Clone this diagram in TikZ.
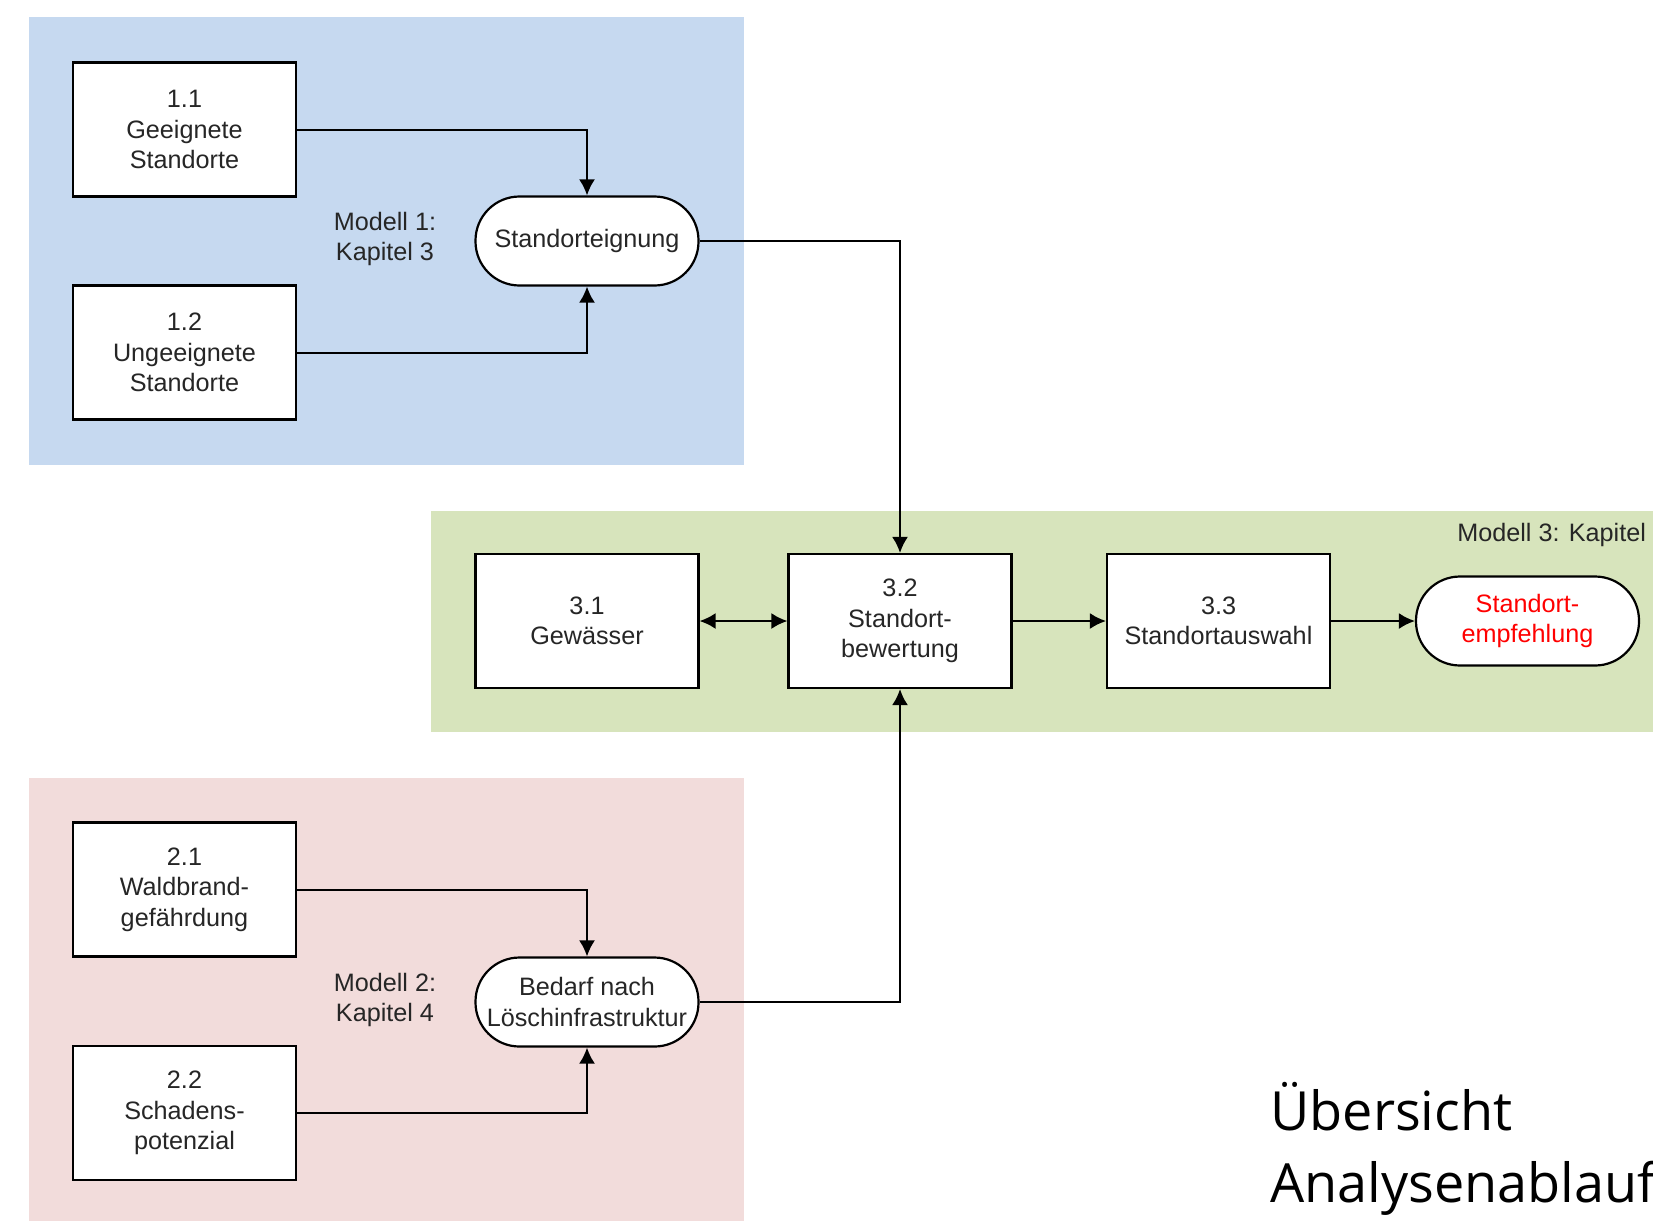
\documentclass[tikz,border=0pt]{standalone}
\usepackage{fontspec}
\setmainfont{Liberation Sans}
\newfontfamily\titlefont{Open Sans}
\usetikzlibrary{arrows.meta}
\definecolor{bluebg}{HTML}{C6D9F0}
\definecolor{greenbg}{HTML}{D7E4BC}
\definecolor{pinkbg}{HTML}{F2DCDB}
\definecolor{redtext}{HTML}{FF0000}
\begin{document}
\begin{tikzpicture}[x=0.5pt,y=-0.5pt,
  txt/.style={font=\fontsize{12.6}{15.3}\selectfont, align=center, text=black!85},
  box/.style={txt, draw, fill=white, line width=1.1pt, minimum width=111.5pt, minimum height=67pt, inner sep=0pt},
  term/.style={box, rounded corners=22pt, minimum height=44.5pt},
  flow/.style={line width=1pt, -{Latex[length=8pt,width=8pt]}}]
\useasboundingbox (0,0) rectangle (1653,1221);
% panels
\fill[bluebg] (28.5,17) rectangle (744,465);
\fill[greenbg] (431,511) rectangle (1653,732);
\fill[pinkbg] (28.5,778) rectangle (744,1221);
% model 1
\node[box] (b11) at (184.5,129.5) {1.1\\Geeignete\\Standorte};
\node[box] (b12) at (184.5,352.5) {1.2\\Ungeeignete\\Standorte};
\node[term] (eig) at (587,241) {Standorteignung};
\node[txt] (m1) at (385,239) {Modell 1:\\Kapitel 3};
% model 3
\node[box] (b31) at (587,621) {3.1\\Gewässer};
\node[box] (b32) at (900,621) {3.2\\Standort-\\bewertung};
\node[box] (b33) at (1218.5,621) {3.3\\Standortauswahl};
\node[term, text=redtext] (emp) at (1527.5,621) {Standort-\\empfehlung};
\node[txt, anchor=east] (m3) at (1653,535) {Modell 3: Kapitel};
% model 2
\node[box] (b21) at (184.5,889.5) {2.1\\Waldbrand-\\gefährdung};
\node[box] (b22) at (184.5,1113) {2.2\\Schadens-\\potenzial};
\node[term] (bed) at (587,1002) {Bedarf nach\\Löschinfrastruktur};
\node[txt] (m2) at (385,1000) {Modell 2:\\Kapitel 4};
% title
\node[font=\titlefont\fontsize{27}{36}\selectfont, anchor=base west, inner sep=0pt] (t1) at (1270,1130) {Übersicht};
\node[font=\titlefont\fontsize{27}{36}\selectfont, anchor=base west, inner sep=0pt] (t2) at (1270,1202) {Analysenablauf};
% connectors
\draw[flow] (b11.east) -| (eig.north);
\draw[flow] (b12.east) -| (eig.south);
\draw[flow] (eig.east) -| (b32.north);
\draw[flow] (b21.east) -| (bed.north);
\draw[flow] (b22.east) -| (bed.south);
\draw[flow] (bed.east) -| (b32.south);
\draw[flow, {Latex[length=8pt,width=8pt]}-{Latex[length=8pt,width=8pt]}] (b31.east) -- (b32.west);
\draw[flow] (b32.east) -- (b33.west);
\draw[flow] (b33.east) -- (emp.west);
\end{tikzpicture}
\end{document}
